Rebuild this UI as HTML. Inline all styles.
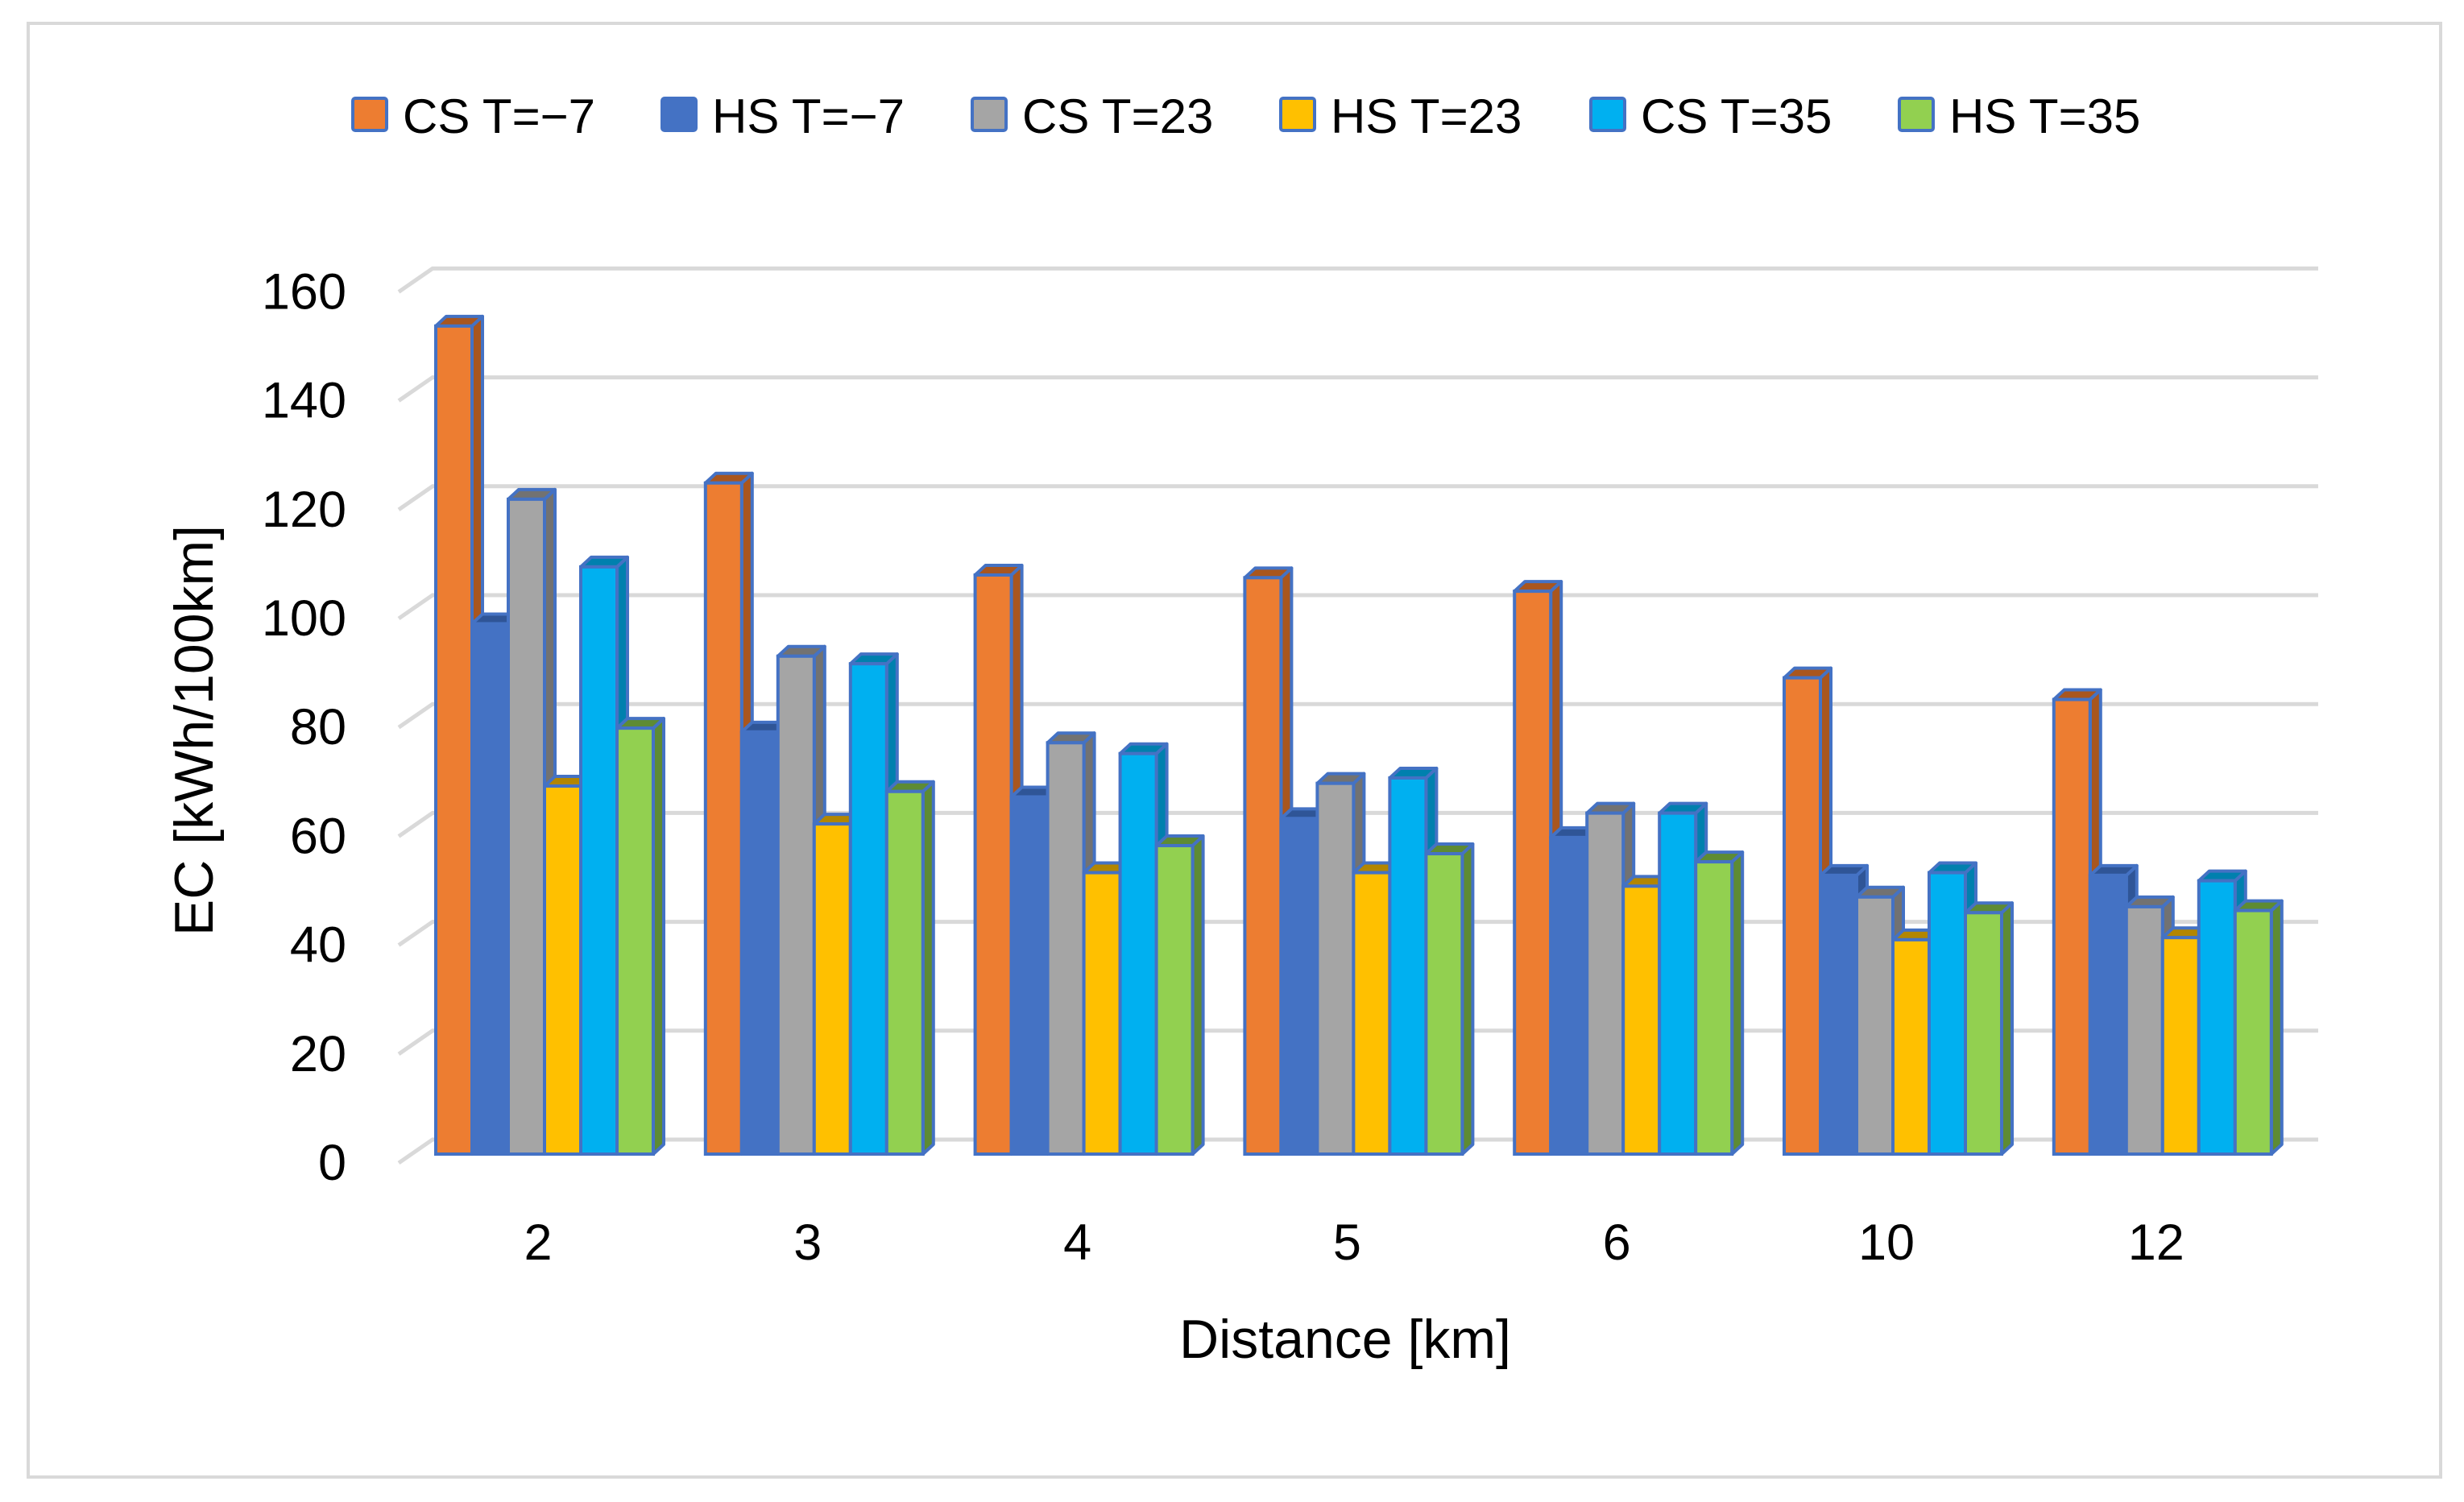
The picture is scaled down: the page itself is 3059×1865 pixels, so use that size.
<!DOCTYPE html>
<html><head><meta charset="utf-8">
<style>
html,body{margin:0;padding:0;background:#fff;}
svg{display:block;font-family:"Liberation Sans",sans-serif;}
</style></head>
<body>
<svg id="chart" width="3059" height="1865" viewBox="0 0 3059 1865" xmlns="http://www.w3.org/2000/svg">
<rect x="35" y="29" width="2995" height="1805" fill="#fff" stroke="#d9d9d9" stroke-width="4"/>
<g id="grid"></g>
<g id="yticks"></g>
<g id="bars"></g>
<g id="xticks"></g>
<g id="legend"></g>
<text x="0" y="0" transform="translate(264,907) rotate(-90)" text-anchor="middle" font-size="68" fill="#000">EC [kWh/100km]</text>
<text x="1670" y="1686" text-anchor="middle" font-size="68" fill="#000">Distance [km]</text>
</svg>
<script>
const categories = ["2","3","4","5","6","10","12"];
const seriesNames = ["CS T=\u22127","HS T=\u22127","CS T=23","HS T=23","CS T=35","HS T=35"];
const csM7 = [153,124,107,106.5,104,88,84];
const hsM7 = [98,78,66,62,58.5,51.5,51.5];
const cs23 = [121,92,76,68.5,63,47.5,45.7];
const hs23 = [68,61,52,52,49.5,39.6,40];
const cs35 = [108.5,90.6,74,69.5,63,52,50.5];
const hs35 = [78.7,67,57,55.5,54,44.6,45];
const yTicks = [0,20,40,60,80,100,120,140,160];

const series = [csM7,hsM7,cs23,hs23,cs35,hs35];
const fills = ["#ED7D31","#4472C4","#A5A5A5","#FFC000","#00B0F0","#92D050"];
const sides = ["#A9561E","#2F5597","#727272","#B38600","#0080AE","#5E8B33"];
const NS="http://www.w3.org/2000/svg";
const baseY=1433, unit=6.72, g0=676, gStep=334.8, barW=45, dx=13, dy=12;
const yF = v => baseY - v*unit;
const yBack = v => 1415 - v*6.76;
const xG = i => g0 + i*gStep;
function mk(tag, attrs, parent){const e=document.createElementNS(NS,tag);for(const k in attrs)e.setAttribute(k,attrs[k]);parent.appendChild(e);return e;}

const grid=document.getElementById('grid'), yt=document.getElementById('yticks');
yTicks.forEach(v=>{
  const p=mk('polyline',{points:`495,${yBack(v)+29} 537,${yBack(v)} 2878,${yBack(v)}`,fill:'none',stroke:'#d9d9d9','stroke-width':5},grid);
  
  
  const t=mk('text',{x:430,y:yBack(v)+50,'text-anchor':'end','font-size':63,fill:'#000'},yt);
  t.textContent=v;
  
  
});

const bars=document.getElementById('bars'), xt=document.getElementById('xticks');
categories.forEach((c,i)=>{
  const left=xG(i)-3*barW;
  series.forEach((s,j)=>{
    const x=left+j*barW, y=yF(s[i]), w=barW;
    const g=mk('g',{},bars);
    
    
    mk('polygon',{points:`${x+w},${y} ${x+w+dx},${y-dy} ${x+w+dx},${baseY-dy} ${x+w},${baseY}`,fill:sides[j],stroke:'#4472C4','stroke-width':4,'stroke-linejoin':'round'},g);
    mk('polygon',{points:`${x},${y} ${x+dx},${y-dy} ${x+w+dx},${y-dy} ${x+w},${y}`,fill:sides[j],stroke:'#4472C4','stroke-width':4,'stroke-linejoin':'round'},g);
    mk('rect',{x:x,y:y,width:w,height:baseY-y,fill:fills[j],stroke:'#4472C4','stroke-width':4},g);
  });
  const t=mk('text',{x:xG(i)-8,y:1564,'text-anchor':'middle','font-size':63,fill:'#000'},xt);
  t.textContent=c;
  
  
});

const lg=document.getElementById('legend');
const lx=[438,822,1207,1590,1975,2358];
seriesNames.forEach((n,j)=>{
  const g=mk('g',{},lg);
  
  
  mk('rect',{x:lx[j],y:122,width:42,height:40,fill:fills[j],stroke:'#4472C4','stroke-width':4,rx:3},g);
  const t=mk('text',{x:lx[j]+62,y:165,'font-size':60,fill:'#000'},g);
  t.textContent=n;
});
</script>
</body></html>
